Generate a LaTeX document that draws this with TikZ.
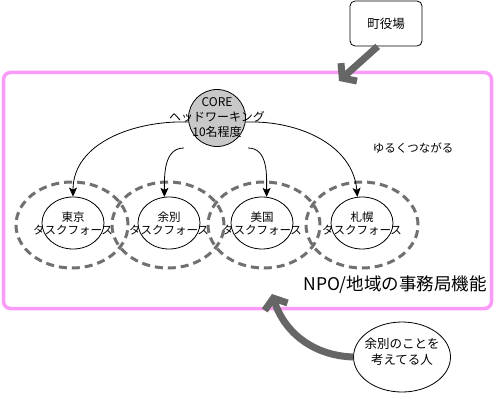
\documentclass[tikz,border=0pt]{standalone}
\usepackage{fontspec}
\newfontfamily\jp{Noto Sans CJK JP}
\usetikzlibrary{arrows.meta,shapes.geometric}
\definecolor{pinkc}{RGB}{250,155,250}
\definecolor{arrowc}{RGB}{102,102,102}
\definecolor{dashc}{RGB}{112,112,112}
\definecolor{corefill}{RGB}{200,200,200}
\tikzset{
  fsz/.style={font=\jp\fontsize{#1}{#1}\selectfont},
  tfring/.style={ellipse, draw=dashc, line width=3pt, dash pattern=on 8pt off 5pt, minimum width=112pt, minimum height=86pt, inner sep=0pt},
  tfbox/.style={ellipse, draw, line width=0.8pt, minimum width=62pt, minimum height=52pt, inner sep=0pt},
  tftext/.style={align=center, fsz=11.5, inner sep=0pt},
  thinarrow/.style={line width=0.8pt, -{Stealth[length=9pt,width=8pt,inset=2pt]}},
  bigarrow/.style={draw=arrowc, line width=7pt, -{Straight Barb[length=9pt,width=24pt]}},
}
\begin{document}
\begin{tikzpicture}[x=1pt,y=1pt]
\useasboundingbox (0,0) rectangle (494,-393);
% frame
\node[draw=pinkc, line width=3.5pt, rounded corners=7pt, minimum width=488pt, minimum height=236pt, inner sep=0pt] (frame) at (247.5,-190.5) {};
% town hall
\node[draw, line width=0.8pt, rounded corners=5pt, minimum width=72pt, minimum height=45pt, fsz=12.5] (town) at (386,-23.5) {町役場};
\coordinate (tip1) at (339,-81);
\draw[bigarrow] (town.250) -- (tip1);
% rings
\node[tfring] (tokyoR) at (72,-225) {};
\node[tfring] (yobetsuR) at (168,-225) {};
\node[tfring] (bikuniR) at (264,-225) {};
\node[tfring] (sapporoR) at (362,-225) {};
% task forces
\node[tfbox] (tokyo) at (73,-223) {};
\node[tfbox] (yobetsu) at (169,-223) {};
\node[tfbox] (bikuni) at (262,-223) {};
\node[tfbox] (sapporo) at (362,-223) {};
\node[tftext] (tokyoT) at (73,-224) {東京\\[1.5pt]タスクフォース};
\node[tftext] (yobetsuT) at (169,-224) {余別\\[1.5pt]タスクフォース};
\node[tftext] (bikuniT) at (262,-224) {美国\\[1.5pt]タスクフォース};
\node[tftext] (sapporoT) at (362,-224) {札幌\\[1.5pt]タスクフォース};
% core
\node[circle, draw, line width=0.8pt, fill=corefill, minimum size=57pt, inner sep=0pt] (core) at (217,-118) {};
\node[align=center, fsz=12, inner sep=0pt] (coreT) at (217,-118) {CORE\\[3pt]ヘッドワーキング\\[3pt]10名程度};
\coordinate (c1) at (184,-148);
\coordinate (c2) at (248,-148);
\draw[thinarrow] (core.188) to[out=178, in=90] (tokyo.north);
\draw[thinarrow] (core.-8) to[out=2, in=95] (sapporo.100);
\draw[thinarrow] (c1) to[out=180, in=90] (yobetsu.100);
\draw[thinarrow] (c2) to[out=0, in=90] (bikuni.80);
\node[fsz=11.5] (loose) at (413,-148) {ゆるくつながる};
\node[fsz=17.5, anchor=east, inner sep=0pt] (npo) at (487,-285) {NPO/地域の事務局機能};
% person
\node[ellipse, draw, line width=0.8pt, minimum width=97pt, minimum height=70pt, inner sep=0pt] (person) at (402,-357) {};
\node[align=center, fsz=12.5, inner sep=0pt] (personT) at (402,-352) {余別のことを\\[3pt]考えてる人};
\coordinate (tip2) at (272,-294);
\draw[bigarrow] (person.west) to[out=178, in=-72] (tip2);
\end{tikzpicture}
\end{document}
